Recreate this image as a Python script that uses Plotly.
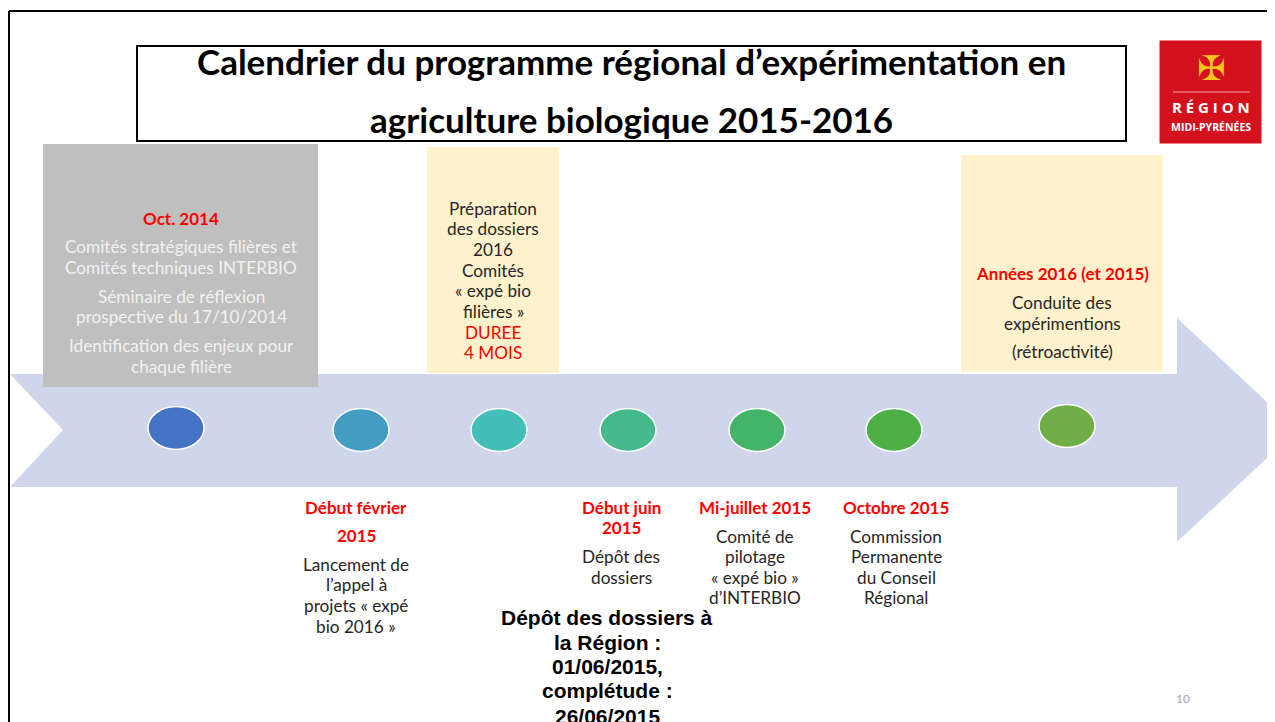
import plotly.graph_objects as go

# ---------------- content ----------------
title_lines = ["Calendrier du programme régional d’expérimentation en",
               "agriculture biologique 2015-2016"]

# boxes above the arrow (phases)
phase_oct = ["Oct. 2014"]
phase_oct_text = ["Comités stratégiques filières et", "Comités techniques INTERBIO",
                  "Séminaire de réflexion", "prospective du 17/10/2014",
                  "Identification des enjeux pour", "chaque filière"]
phase_prep_text = ["Préparation", "des dossiers", "2016", "Comités",
                   "« expé bio", "filières »"]
phase_prep_red = ["DUREE", "4 MOIS"]
phase_years = ["Années 2016 (et 2015)"]
phase_years_text = ["Conduite des", "expérimentions", "(rétroactivité)"]

# milestones below the arrow
milestone_dates = [["Début février", "2015"], ["Début juin", "2015"],
                   ["Mi-juillet 2015"], ["Octobre 2015"]]
milestone_texts = [["Lancement de", "l’appel à", "projets « expé", "bio 2016 »"],
                   ["Dépôt des", "dossiers"],
                   ["Comité de", "pilotage", "« expé bio »", "d’INTERBIO"],
                   ["Commission", "Permanente", "du Conseil", "Régional"]]
note_lines = ["Dépôt des dossiers à", "la Région :", "01/06/2015,",
              "complétude :", "26/06/2015"]

circle_colors = ["#4472C4", "#439CC2", "#44BEB8", "#45BB8D",
                 "#44B568", "#4CB046", "#70AD47"]
page_number = "10"

# ---------------- layout (positions / styles) ----------------
W, H = 1275, 722
OFF = 8  # page body margin
circle_x = [176, 361, 499, 628, 757, 894, 1067]
circle_y = [428, 430, 430, 430, 430, 430, 426]
circle_rx, circle_ry = 28, 21.5

BODY = "Lato"
BS = 17.2
RED = "#FF0000"
DARK = "#262626"

fig = go.Figure()
shapes = []
ann = []


def txt(x, y, s, size=BS, color=DARK, bold=False, family=BODY, anchor="center"):
    ann.append(dict(x=x, y=y, xref="x", yref="y", text=(f"<b>{s}</b>" if bold else s),
                    showarrow=False, xanchor=anchor, yanchor="middle",
                    font=dict(family=family, size=size, color=color)))


# outer slide border (left & top)
shapes.append(dict(type="line", x0=9, x1=9, y0=11, y1=H + 5, line=dict(color="black", width=2)))
shapes.append(dict(type="line", x0=9, x1=W + 5, y0=11, y1=11, line=dict(color="black", width=2)))

# big arrow
arrow_path = ("M 10 374 L 1177 374 L 1177 318 L 1297 430 L 1177 542 L 1177 487 "
              "L 10 487 L 63 430 Z")
shapes.append(dict(type="path", path=arrow_path, fillcolor="#CFD5EA", line=dict(width=0),
                   layer="below"))

# phase boxes
shapes.append(dict(type="rect", x0=43, x1=318, y0=144, y1=387, fillcolor="#BFBFBF",
                   line=dict(width=0)))
shapes.append(dict(type="rect", x0=427, x1=559, y0=147, y1=373, fillcolor="#FFF2CC",
                   line=dict(width=0)))
shapes.append(dict(type="rect", x0=961, x1=1163, y0=155, y1=372, fillcolor="#FFF2CC",
                   line=dict(width=0)))

# title box
shapes.append(dict(type="rect", x0=137, x1=1126, y0=46, y1=141, fillcolor="white",
                   line=dict(color="black", width=2)))

# milestone ellipses
for cx, cy, col in zip(circle_x, circle_y, circle_colors):
    shapes.append(dict(type="circle", x0=cx - circle_rx, x1=cx + circle_rx,
                       y0=cy - circle_ry, y1=cy + circle_ry, fillcolor=col,
                       line=dict(color="white", width=1.5)))

# logo
shapes.append(dict(type="rect", x0=1162, x1=1259, y0=43, y1=141, fillcolor="#D3121E",
                   line=dict(color="#D3121E", width=5)))
shapes.append(dict(type="line", x0=1173, x1=1250, y0=92, y1=92,
                   line=dict(color="#F0A0A0", width=1)))
txt(1211, 68, "✠", size=34, color="#F7C51E", family="DejaVu Sans")
txt(1211, 107, "R É G I O N", size=15, color="white", bold=True, family="Open Sans")
txt(1211, 127, "MIDI-PYRÉNÉES", size=10.5, color="white", bold=True, family="Open Sans")

# title
txt(631, 61, title_lines[0], size=35, color="black", bold=True)
txt(631, 119, title_lines[1], size=35, color="black", bold=True)

# grey box text
txt(181, 218, phase_oct[0], size=17, color=RED, bold=True)
for s, y in zip(phase_oct_text, [246, 267, 296, 316, 345, 366]):
    txt(181, y, s, color="#F2F2F2")

# preparation box
for i, s in enumerate(phase_prep_text):
    txt(493, 208 + i * 20.7, s)
for i, s in enumerate(phase_prep_red):
    txt(493, 332 + i * 20.7, s, color=RED)

# years box
txt(1062, 273, phase_years[0], size=17, color=RED, bold=True)
for s, y in zip(phase_years_text, [302, 323, 351]):
    txt(1062, y, s)

# milestones below arrow
ms_x = [356, 621, 755, 896]
ms_date_y = [[507, 535], [507, 527], [507], [507]]
ms_text_y = [[564, 584, 605, 626], [556, 577], [536, 556, 577, 597], [536, 556, 577, 597]]
for x, dates, dys, texts, tys in zip(ms_x, milestone_dates, ms_date_y, milestone_texts, ms_text_y):
    for s, y in zip(dates, dys):
        txt(x, y, s, size=17, color=RED, bold=True)
    for s, y in zip(texts, tys):
        txt(x, y, s)

# note in Arial bold (last line is cut by the slide edge, as in the source)
for s, y in zip(note_lines, [617, 642, 666, 690, 716]):
    txt(607, y, s, size=21, color="black", bold=True, family="Liberation Sans")

# page number
txt(1183, 698, page_number, size=12, color="#A6A6A6")

fig.update_layout(
    width=W, height=H, margin=dict(l=0, r=0, t=0, b=0),
    paper_bgcolor="white", plot_bgcolor="white",
    xaxis=dict(range=[OFF, W + OFF], visible=False, fixedrange=True),
    yaxis=dict(range=[H + OFF, OFF], visible=False, fixedrange=True),
    shapes=shapes, annotations=ann, showlegend=False,
)
fig.write_html("out.html")
